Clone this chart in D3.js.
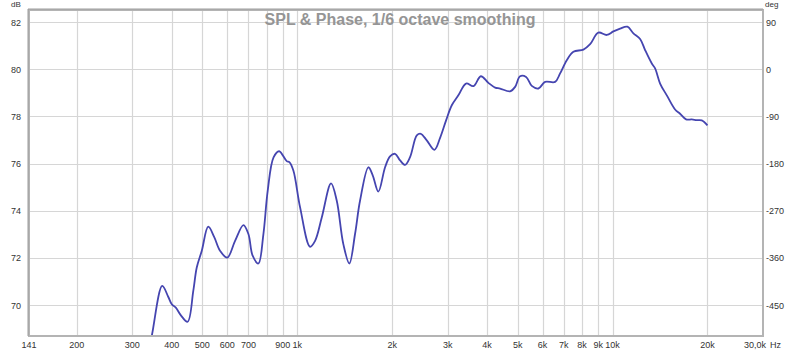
<html>
<head>
  <meta charset="utf8">
  <title>SPL & Phase</title>
  <style>
  * { margin: 0; padding: 0; }
  body { background: #fff; }
  text { font-family: "Liberation Sans", Arial, sans-serif; }
  </style>
</head>
<body>
  <script src="https://cdn.jsdelivr.net/npm/d3@7"></script>
  <script>
  var w = 800;
  var h = 352;

  var freq = [338, 345, 373, 390, 400, 412, 427, 449, 468, 480, 498, 522, 545, 569, 600,
    635, 675, 700, 722, 753, 781, 806, 841, 876, 926, 944, 972, 1021, 1098, 1139,
    1196, 1280, 1334, 1400, 1463, 1525, 1582, 1681, 1736, 1808, 1899, 1969, 2043, 2119, 2197,
    2279, 2394, 2465, 2575, 2722, 2838, 2965, 3091, 3243, 3431, 3620, 3821, 4039, 4242, 4399,
    4732, 4908, 5090, 5318, 5544, 5818, 6110, 6573, 6818, 7158, 7512, 8082, 8488, 9012, 9591,
    10062, 10566, 11144, 11643, 12227, 12682, 13318, 13643, 14150, 14860, 15787, 16373, 17107, 17833, 18496,
    19184, 20000];
  var spl = [68.26, 68.65, 70.81, 70.34, 70.03, 69.89, 69.57, 69.29, 70.60, 71.59, 72.30, 73.32, 72.89, 72.30, 72.01,
    72.72, 73.39, 73.01, 72.09, 71.76, 73.01, 74.85, 76.26, 76.52, 76.10, 76.06, 75.70, 74.14, 72.47, 72.72,
    73.71, 75.16, 74.43, 72.58, 71.76, 73.01, 74.43, 75.84, 75.49, 74.81, 75.84, 76.30, 76.41, 76.13, 75.94,
    76.27, 77.19, 77.26, 76.98, 76.58, 77.09, 77.83, 78.47, 78.89, 79.39, 79.28, 79.70, 79.42, 79.22, 79.18,
    79.06, 79.25, 79.70, 79.67, 79.29, 79.18, 79.46, 79.46, 79.82, 80.38, 80.74, 80.83, 81.06, 81.55, 81.45,
    81.60, 81.72, 81.80, 81.52, 81.28, 80.81, 80.24, 80.03, 79.39, 78.89, 78.29, 78.11, 77.87, 77.87, 77.84,
    77.83, 77.62];

  var dbTicks = [70, 72, 74, 76, 78, 80, 82];
  var degTicks = [-450, -360, -270, -180, -90, 0, 90];
  var gridFreqs = [200, 300, 400, 500, 600, 700, 800, 900, 1000, 2000, 3000, 4000, 5000, 6000, 7000, 8000, 9000, 10000, 20000];
  var freqLabels = [
    [141, "141"], [200, "200"], [300, "300"], [400, "400"], [500, "500"], [600, "600"], [700, "700"],
    [900, "900"], [1000, "1k"], [2000, "2k"], [3000, "3k"], [4000, "4k"], [5000, "5k"], [6000, "6k"],
    [7000, "7k"], [8000, "8k"], [9000, "9k"], [10000, "10k"], [20000, "20k"]
  ];

  // plot box (window.top is read-only, so no "top" here)
  var pLeft = 29, pRight = 763, pTop = 10, pBottom = 336;

  var xScale = d3.scaleLog().domain([141, 30000]).range([pLeft, pRight]);
  var yScale = d3.scaleLinear().domain([70, 82]).range([305, 22]);
  var pScale = d3.scaleLinear().domain([-450, 90]).range([305, 22]);

  var svg = d3.select("body").append("svg")
    .attr("width", w)
    .attr("height", h);

  //grid
  svg.append("g").selectAll("line")
    .data(gridFreqs).enter().append("line")
    .attr("x1", d => Math.round(xScale(d)) + 0.5)
    .attr("x2", d => Math.round(xScale(d)) + 0.5)
    .attr("y1", pTop).attr("y2", pBottom)
    .attr("stroke", "#d6d6d6").attr("stroke-width", 1.2);
  svg.append("g").selectAll("line")
    .data(dbTicks).enter().append("line")
    .attr("x1", pLeft).attr("x2", pRight)
    .attr("y1", d => Math.round(yScale(d)) + 0.5)
    .attr("y2", d => Math.round(yScale(d)) + 0.5)
    .attr("stroke", "#d6d6d6").attr("stroke-width", 1.2);

  //curve
  var line = d3.line()
    .x((d, i) => xScale(freq[i]))
    .y(d => yScale(d))
    .curve(d3.curveCatmullRom.alpha(0.5));

  svg.append("clipPath").attr("id", "plotclip")
    .append("rect").attr("x", pLeft).attr("y", pTop)
    .attr("width", pRight - pLeft).attr("height", pBottom - pTop - 1);

  svg.append("path")
    .datum(spl)
    .attr("clip-path", "url(#plotclip)")
    .attr("d", line)
    .attr("fill", "none")
    .attr("stroke", "#4545b0")
    .attr("stroke-width", 1.8)
    .attr("stroke-linejoin", "round");

  //frame
  svg.append("rect")
    .attr("x", pLeft).attr("y", pTop)
    .attr("width", pRight - pLeft).attr("height", pBottom - pTop)
    .attr("fill", "none")
    .attr("stroke", "#b4b4b4")
    .attr("stroke-width", 2);
  svg.append("path")
    .attr("d", "M" + (pLeft - 1) + "," + pBottom + "V" + (pTop - 1) + "H" + pRight)
    .attr("fill", "none")
    .attr("stroke", "#9c9c9c")
    .attr("stroke-width", 1);

  //title
  svg.append("text")
    .attr("x", 400).attr("y", 25)
    .attr("text-anchor", "middle")
    .attr("font-size", "16px")
    .attr("font-weight", "bold")
    .attr("fill", "#959595")
    .text("SPL & Phase, 1/6 octave smoothing");

  //axis labels
  svg.selectAll(".db")
    .data(dbTicks).enter().append("text")
    .attr("x", 21).attr("y", d => yScale(d) + 3.5)
    .attr("text-anchor", "end")
    .attr("font-size", "9px")
    .attr("fill", "#333")
    .text(d => d);
  svg.selectAll(".deg")
    .data(degTicks).enter().append("text")
    .attr("x", 766).attr("y", d => pScale(d) + 3.5)
    .attr("font-size", "9px")
    .attr("fill", "#333")
    .text(d => d);
  svg.selectAll(".hz")
    .data(freqLabels).enter().append("text")
    .attr("x", d => xScale(d[0]))
    .attr("y", 348)
    .attr("text-anchor", "middle")
    .attr("font-size", "9px")
    .attr("fill", "#333")
    .text(d => d[1]);
  svg.append("text").attr("x", 755).attr("y", 348)
    .attr("text-anchor", "middle").attr("font-size", "9px").attr("fill", "#333")
    .text("30,0k");
  svg.append("text").attr("x", 770).attr("y", 348)
    .attr("font-size", "9px").attr("fill", "#333")
    .text("Hz");
  svg.append("text").attr("x", 11).attr("y", 7)
    .attr("font-size", "8px").attr("fill", "#333")
    .text("dB");
  svg.append("text").attr("x", 765).attr("y", 7)
    .attr("font-size", "8px").attr("fill", "#333")
    .text("deg");
  </script>
</body>
</html>
